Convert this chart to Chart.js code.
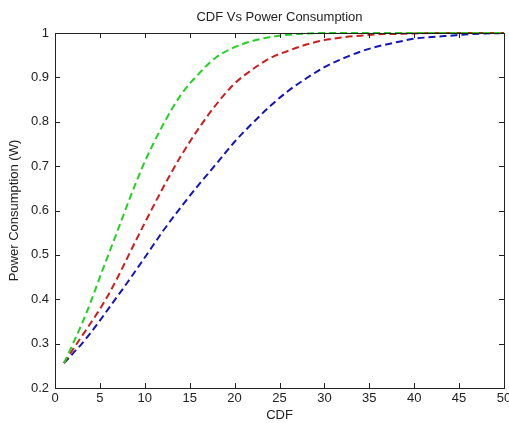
<!DOCTYPE html>
<html>
<head>
<meta charset="utf-8">
<script src="https://cdn.jsdelivr.net/npm/chart.js@4/dist/chart.umd.min.js"></script>
<style>
    body { margin: 0; background: #fff; }
    #wrap { width: 509px; height: 423px; }
</style>
</head>
<body>
<div id="wrap"><canvas id="cdfChart"></canvas></div>
<script>
// values
const greenX = [1, 2, 3, 4, 5, 6, 7, 8, 9, 10, 12, 14, 16, 18, 20, 22, 24, 26, 28, 30, 35, 40, 45, 50];
const greenY = [0.256, 0.3, 0.345, 0.395, 0.45, 0.503, 0.556, 0.61, 0.662, 0.71, 0.792, 0.86, 0.908, 0.946, 0.968, 0.982, 0.991, 0.996, 0.999, 1, 1, 1, 1, 1];

const redX = [1, 2, 3, 4, 5, 6, 7, 8, 9, 10, 12, 14, 16, 18, 20, 22, 24, 26, 28, 30, 32, 34, 36, 38, 40, 42, 45, 50];
const redY = [0.256, 0.287, 0.317, 0.347, 0.378, 0.412, 0.45, 0.491, 0.532, 0.572, 0.65, 0.722, 0.785, 0.84, 0.886, 0.918, 0.944, 0.96, 0.974, 0.984, 0.99, 0.994, 0.997, 0.998, 0.999, 1, 1, 1];

const blueX = [1, 2, 3, 4, 5, 6, 7, 8, 9, 10, 12, 14, 16, 18, 20, 22, 24, 26, 28, 30, 32, 34, 36, 38, 40, 42, 44, 46, 48, 50];
const blueY = [0.256, 0.278, 0.3, 0.325, 0.352, 0.38, 0.408, 0.436, 0.465, 0.494, 0.553, 0.607, 0.658, 0.706, 0.755, 0.797, 0.836, 0.87, 0.898, 0.923, 0.942, 0.958, 0.97, 0.979, 0.987, 0.991, 0.994, 0.997, 0.999, 1];

const xTicks = [0, 5, 10, 15, 20, 25, 30, 35, 40, 45, 50];
const yTicks = [0.2, 0.3, 0.4, 0.5, 0.6, 0.7, 0.8, 0.9, 1];

const FONT = "'Liberation Sans', Arial, sans-serif";

function toPoints(xs, ys) {
    return xs.map((x, i) => ({x: x, y: ys[i]}));
}

function lineSet(xs, ys, color) {
    return {
        data: toPoints(xs, ys),
        borderColor: color,
        borderWidth: 2,
        borderDash: [7, 4],
        pointRadius: 0,
        cubicInterpolationMode: 'monotone',
        fill: false,
        clip: 4
    };
}

// matlab style box with inward ticks
const boxPlugin = {
    id: 'matlabBox',
    afterDatasetsDraw(chart) {
        const ctx = chart.ctx;
        const a = chart.chartArea;
        const xs = chart.scales.x;
        const ys = chart.scales.y;
        const len = 5;
        ctx.save();
        ctx.strokeStyle = '#222';
        ctx.lineWidth = 1;
        ctx.strokeRect(Math.round(a.left) + 0.5, Math.round(a.top) + 0.5,
            Math.round(a.right - a.left), Math.round(a.bottom - a.top));
        ctx.beginPath();
        xTicks.forEach(v => {
            const px = Math.round(xs.getPixelForValue(v)) + 0.5;
            ctx.moveTo(px, a.bottom);
            ctx.lineTo(px, a.bottom - len);
            ctx.moveTo(px, a.top);
            ctx.lineTo(px, a.top + len);
        });
        yTicks.forEach(v => {
            const py = Math.round(ys.getPixelForValue(v)) + 0.5;
            ctx.moveTo(a.left, py);
            ctx.lineTo(a.left + len, py);
            ctx.moveTo(a.right, py);
            ctx.lineTo(a.right - len, py);
        });
        ctx.stroke();
        ctx.restore();
    }
};

new Chart(document.getElementById('cdfChart'), {
    type: 'line',
    data: {
        datasets: [
            lineSet(greenX, greenY, '#1fd41f'),
            lineSet(redX, redY, '#cf1c1c'),
            lineSet(blueX, blueY, '#1414bf')
        ]
    },
    options: {
        responsive: true,
        maintainAspectRatio: false,
        animation: false,
        layout: {padding: {left: 0, right: 5, top: 0, bottom: 0}},
        plugins: {
            legend: {display: false},
            tooltip: {enabled: false},
            title: {
                display: true,
                text: 'CDF Vs Power Consumption',
                fullSize: false,
                color: '#222',
                font: {family: FONT, size: 13, weight: 'normal', lineHeight: 1.2},
                padding: {top: 10, bottom: 7.4}
            }
        },
        scales: {
            x: {
                type: 'linear',
                min: 0,
                max: 50,
                afterBuildTicks: s => { s.ticks = xTicks.map(v => ({value: v})); },
                afterFit: s => { s.height = 35; s.paddingLeft = 0; s.paddingRight = 0; },
                grid: {display: false, drawTicks: false},
                border: {display: false},
                ticks: {
                    color: '#222',
                    font: {family: FONT, size: 13},
                    padding: 3,
                    maxRotation: 0,
                    autoSkip: false
                },
                title: {
                    display: true,
                    text: 'CDF',
                    color: '#222',
                    font: {family: FONT, size: 13, lineHeight: 1.2},
                    padding: {top: 0, bottom: 0}
                }
            },
            y: {
                type: 'linear',
                min: 0.2,
                max: 1,
                afterBuildTicks: s => { s.ticks = yTicks.map(v => ({value: v})); },
                afterFit: s => { s.width = 55; s.paddingTop = 0; s.paddingBottom = 0; },
                grid: {display: false, drawTicks: false},
                border: {display: false},
                ticks: {
                    color: '#222',
                    font: {family: FONT, size: 13},
                    padding: 6,
                    autoSkip: false,
                    callback: v => String(+v.toFixed(1))
                },
                title: {
                    display: true,
                    text: 'Power Consumption (W)',
                    color: '#222',
                    font: {family: FONT, size: 13, lineHeight: 1.2},
                    padding: {top: 7, bottom: 0}
                }
            }
        }
    },
    plugins: [boxPlugin]
});
</script>
</body>
</html>
